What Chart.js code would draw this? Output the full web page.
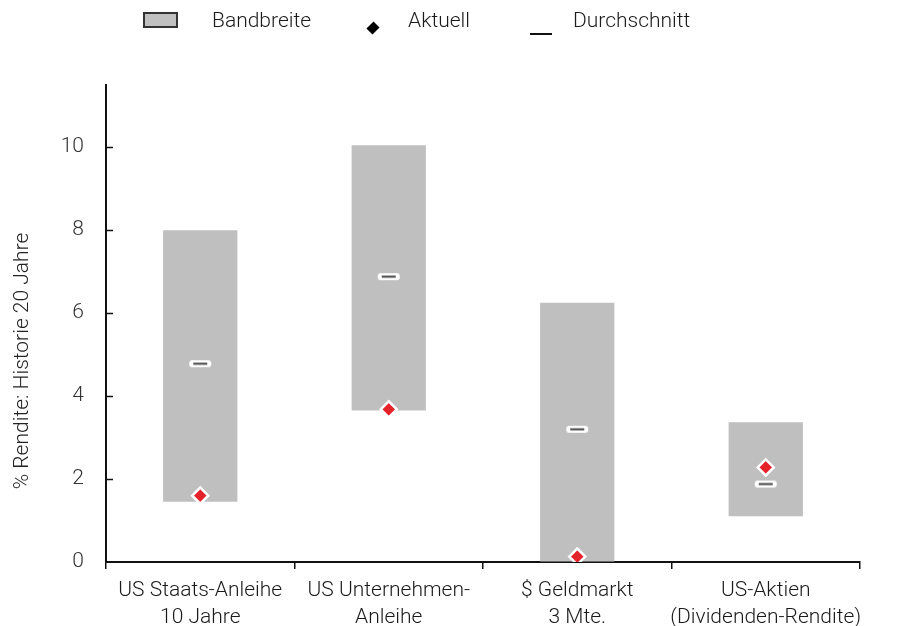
<!DOCTYPE html>
<html>
<head>
<meta charset="utf-8">
<script src="https://cdn.jsdelivr.net/npm/chart.js"></script>
<style>
  html, body { margin: 0; padding: 0; background: #fff; }
  #wrap { position: relative; width: 897px; height: 626px; }
  #legend { position: absolute; left: 0; top: 0; width: 897px; height: 45px; font-family: Roboto, 'Liberation Sans', sans-serif; font-weight: 300; font-size: 21px; color: #1a1a1a; }
  #legend span, #legend i { position: absolute; display: block; }
  .box { left: 143px; top: 12px; width: 31px; height: 12px; background: #c0c0c0; border: 2px solid #333; }
  .dia { left: 368px; top: 23px; width: 10px; height: 10px; background: #000; transform: rotate(45deg) scaleX(0.85); }
  .dash { left: 530px; top: 33px; width: 22px; height: 2px; background: #111; }
</style>
</head>
<body>
<div id="wrap">
  <canvas id="c" width="897" height="626"></canvas>
  <div id="legend">
    <i class="box"></i><span style="left:212px;top:8px">Bandbreite</span>
    <i class="dia"></i><span style="left:408px;top:8px">Aktuell</span>
    <i class="dash"></i><span style="left:573px;top:8px">Durchschnitt</span>
  </div>
</div>
<script>
const categories = [
  ['US Staats-Anleihe', '10 Jahre'],
  ['US Unternehmen-', 'Anleihe'],
  ['$ Geldmarkt', '3 Mte.'],
  ['US-Aktien', '(Dividenden-Rendite)']
];
const rangeLow  = [1.45, 3.65, 0.0, 1.1];
const rangeHigh = [8.0, 10.05, 6.25, 3.37];
const average   = [4.78, 6.88, 3.2, 1.88];
const current   = [1.6, 3.68, 0.13, 2.28];
const yTicks    = [0, 2, 4, 6, 8, 10];
const yTitle    = '% Rendite: Historie 20 Jahre';

const ranges = rangeLow.map((lo, i) => [lo, rangeHigh[i]]);
const fontFam = 'Roboto, "Liberation Sans", sans-serif';

// average marker: white rounded pill with a dark line inside
function avgMarker() {
  const cv = document.createElement('canvas');
  cv.width = 24; cv.height = 9;
  const g = cv.getContext('2d');
  g.fillStyle = '#fff';
  g.beginPath();
  g.roundRect(1, 1, 22, 7, 3);
  g.fill();
  g.fillStyle = '#444';
  g.fillRect(5, 3.5, 14, 2);
  return cv;
}

const axisExtras = {
  id: 'axisExtras',
  afterDraw(chart) {
    const ctx = chart.ctx;
    const y = chart.scales.y;
    const left = chart.chartArea.left;
    ctx.save();
    ctx.strokeStyle = '#111';
    ctx.lineWidth = 1.5;
    yTicks.forEach(v => {
      if (v === 0) return;
      const py = Math.round(y.getPixelForValue(v)) + 0.5;
      ctx.beginPath();
      ctx.moveTo(left, py);
      ctx.lineTo(left + 7, py);
      ctx.stroke();
    });
    ctx.translate(23, 361);
    ctx.rotate(-Math.PI / 2);
    ctx.fillStyle = '#222';
    ctx.font = '300 21px ' + fontFam;
    ctx.textAlign = 'center';
    ctx.textBaseline = 'middle';
    ctx.fillText(yTitle, 0, 0);
    ctx.restore();
  }
};

new Chart(document.getElementById('c'), {
  type: 'bar',
  data: {
    labels: categories,
    datasets: [
      {
        label: 'Bandbreite',
        data: ranges,
        backgroundColor: '#bfbfc0',
        borderWidth: 0,
        barPercentage: 0.394,
        categoryPercentage: 1,
        order: 3
      },
      {
        type: 'line',
        label: 'Durchschnitt',
        data: average,
        showLine: false,
        pointStyle: avgMarker(),
        order: 2
      },
      {
        type: 'line',
        label: 'Aktuell',
        data: current,
        showLine: false,
        pointStyle: 'rectRot',
        pointRadius: 8,
        backgroundColor: '#e4222a',
        borderColor: '#fff',
        borderWidth: 2.5,
        order: 1
      }
    ]
  },
  options: {
    responsive: false,
    animation: false,
    layout: { padding: { left: 0, right: 37, top: 85, bottom: 0 } },
    plugins: { legend: { display: false }, tooltip: { enabled: false } },
    scales: {
      x: {
        afterFit: s => { s.height = 64; },
        grid: { drawOnChartArea: false, drawTicks: true, tickLength: 7, color: '#111', lineWidth: 1.5 },
        border: { color: '#111', width: 2 },
        ticks: {
          color: '#1a1a1a',
          font: { family: fontFam, size: 21, weight: '300', lineHeight: 1.28 },
          padding: 8,
          maxRotation: 0,
          autoSkip: false
        }
      },
      y: {
        min: 0,
        max: 11.5,
        afterFit: s => { s.width = 106; },
        afterBuildTicks: s => { s.ticks = yTicks.map(v => ({ value: v })); },
        grid: { drawOnChartArea: false, drawTicks: false },
        border: { color: '#111', width: 2 },
        ticks: {
          color: '#333',
          font: { family: fontFam, size: 21, weight: '300' },
          padding: 22
        }
      }
    }
  },
  plugins: [axisExtras]
});
</script>
</body>
</html>
